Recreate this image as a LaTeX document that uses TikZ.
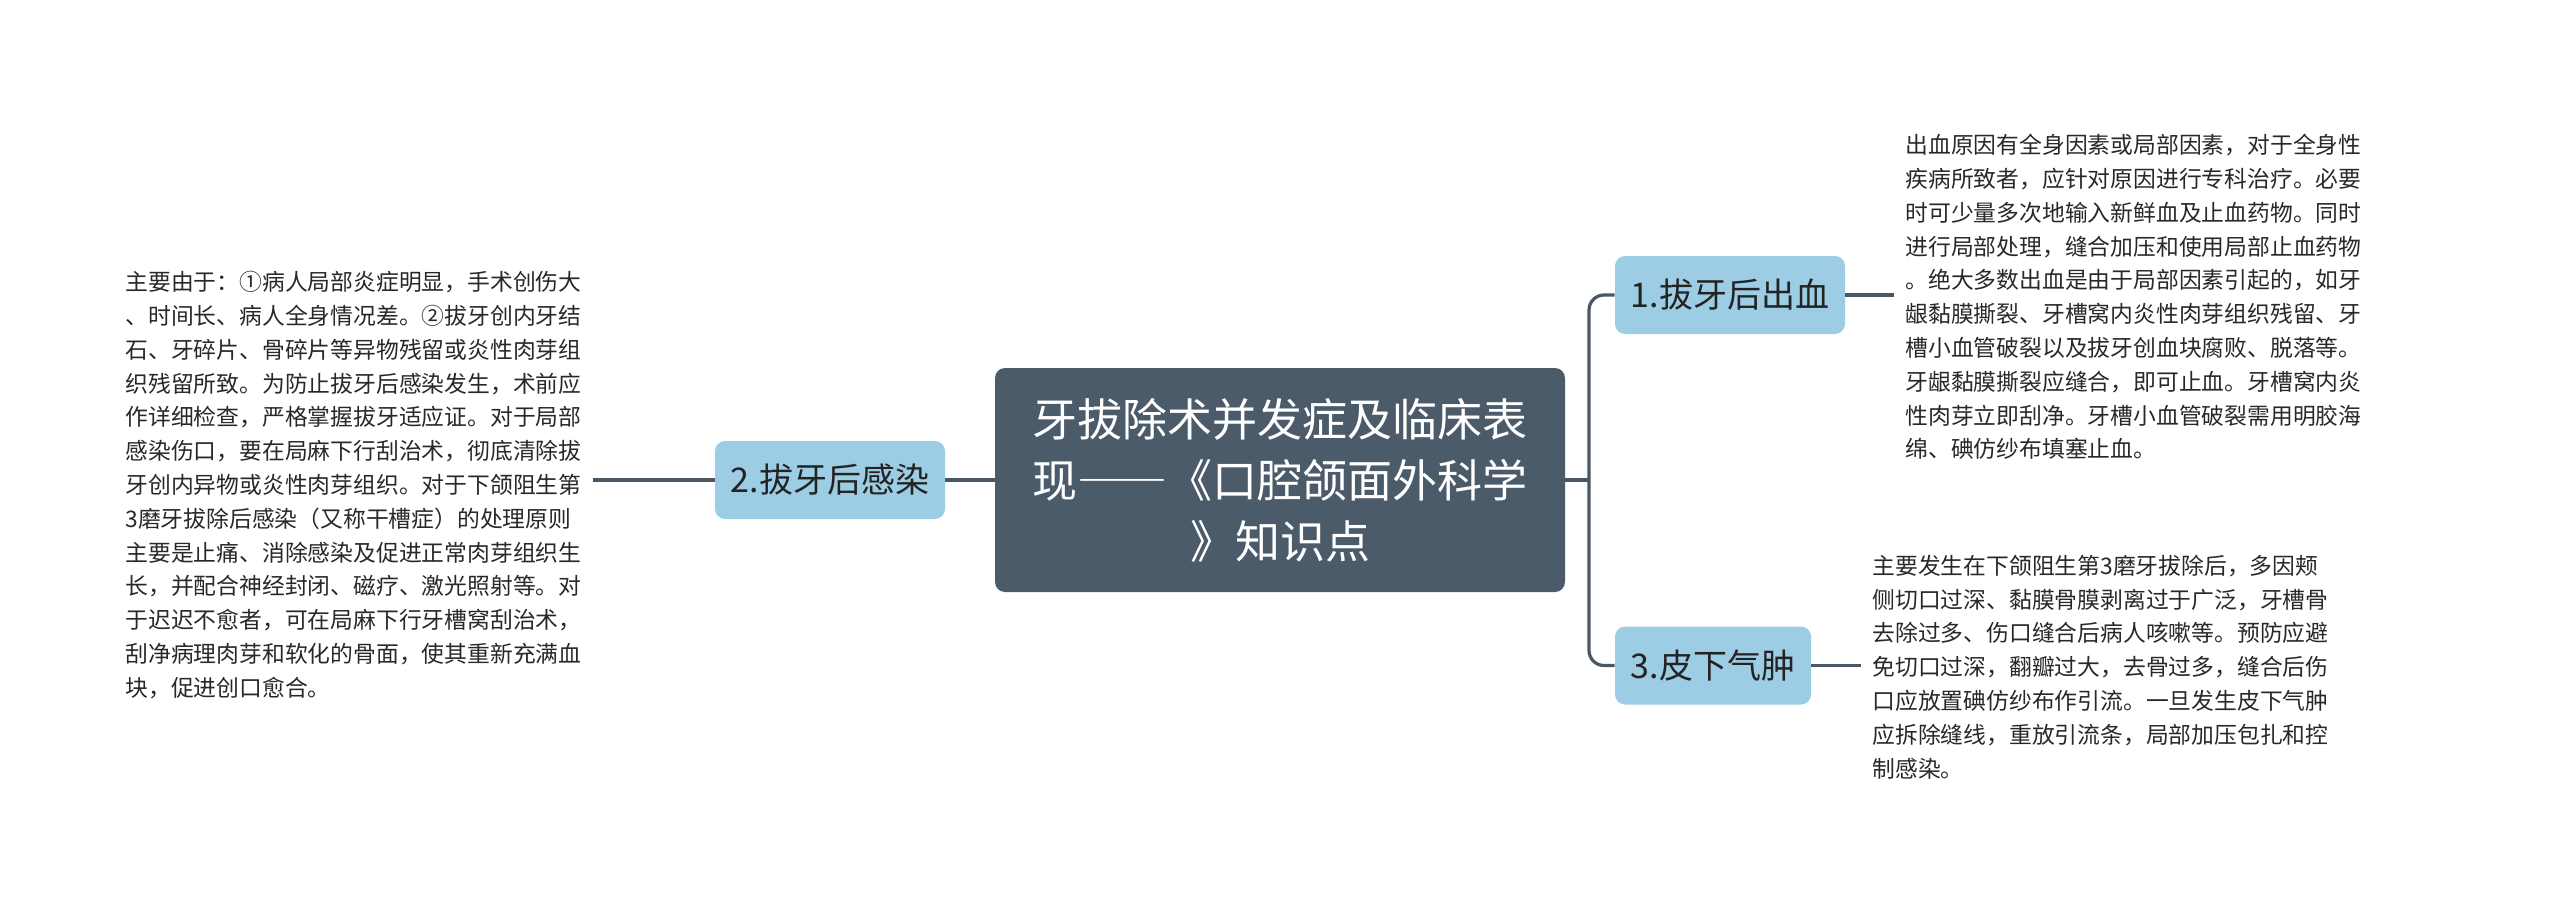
\documentclass[tikz,border=0pt]{standalone}
\usepackage{fontspec}
\setmainfont{Noto Sans CJK SC}
\newfontfamily\centerfont[CharacterWidth=Full]{Noto Sans CJK SC}
\definecolor{centerfill}{RGB}{76,91,106}
\definecolor{branchfill}{RGB}{156,205,228}
\definecolor{linecol}{RGB}{74,88,102}
\definecolor{leaftext}{RGB}{40,40,40}
\definecolor{branchtext}{RGB}{35,35,35}
\tikzset{
  centerbox/.style={fill=centerfill, rounded corners=5pt, text=white,
    font=\centerfont\fontsize{22.5pt}{30.5pt}\selectfont, align=center,
    minimum width=285pt, minimum height=112pt, inner sep=0pt},
  branchbox/.style={fill=branchfill, rounded corners=5pt, text=branchtext,
    font=\fontsize{17pt}{20pt}\selectfont, minimum height=39pt, inner sep=0pt},
  leaftxt/.style={align=left, text=leaftext,
    font=\fontsize{11.4pt}{16.9pt}\selectfont, inner sep=5.5pt, anchor=west},
  conn/.style={draw=linecol, line width=1.6pt},
}
\begin{document}
\begin{tikzpicture}[x=0.5pt,y=-0.5pt]
\useasboundingbox (0,0) rectangle (2560,910);
\node[centerbox] (center) at (1280,480) {牙拔除术并发症及临床表\\现——《口腔颌面外科学\\》知识点};
\node[branchbox, minimum width=115pt] (b2) at (830,480) {2.拔牙后感染};
\node[branchbox, minimum width=115pt] (b1) at (1730,295) {1.拔牙后出血};
\node[branchbox, minimum width=98pt] (b3) at (1713,665.5) {3.皮下气肿};
\node[leaftxt] (l2) at (114,485) {主要由于：①病人局部炎症明显，手术创伤大\\、时间长、病人全身情况差。②拔牙创内牙结\\石、牙碎片、骨碎片等异物残留或炎性肉芽组\\织残留所致。为防止拔牙后感染发生，术前应\\作详细检查，严格掌握拔牙适应证。对于局部\\感染伤口，要在局麻下行刮治术，彻底清除拔\\牙创内异物或炎性肉芽组织。对于下颌阻生第\\3磨牙拔除后感染（又称干槽症）的处理原则\\主要是止痛、消除感染及促进正常肉芽组织生\\长，并配合神经封闭、磁疗、激光照射等。对\\于迟迟不愈者，可在局麻下行牙槽窝刮治术，\\刮净病理肉芽和软化的骨面，使其重新充满血\\块，促进创口愈合。};
\node[leaftxt] (l1) at (1894,297) {出血原因有全身因素或局部因素，对于全身性\\疾病所致者，应针对原因进行专科治疗。必要\\时可少量多次地输入新鲜血及止血药物。同时\\进行局部处理，缝合加压和使用局部止血药物\\。绝大多数出血是由于局部因素引起的，如牙\\龈黏膜撕裂、牙槽窝内炎性肉芽组织残留、牙\\槽小血管破裂以及拔牙创血块腐败、脱落等。\\牙龈黏膜撕裂应缝合，即可止血。牙槽窝内炎\\性肉芽立即刮净。牙槽小血管破裂需用明胶海\\绵、碘仿纱布填塞止血。};
\node[leaftxt] (l3) at (1861,667) {主要发生在下颌阻生第3磨牙拔除后，多因颊\\侧切口过深、黏膜骨膜剥离过于广泛，牙槽骨\\去除过多、伤口缝合后病人咳嗽等。预防应避\\免切口过深，翻瓣过大，去骨过多，缝合后伤\\口应放置碘仿纱布作引流。一旦发生皮下气肿\\应拆除缝线，重放引流条，局部加压包扎和控\\制感染。};
\coordinate (J) at (1589,480);
\draw[conn] (center.east) -- (J);
\draw[conn, rounded corners=7.5pt] (J) |- (b1.west);
\draw[conn, rounded corners=7.5pt] (J) |- (b3.west);
\draw[conn] (b2.east) -- (center.west);
\draw[conn] (b2.west) -- (l2.east |- b2.west);
\draw[conn] (b1.east) -- (l1.west |- b1.east);
\draw[conn] (b3.east) -- (l3.west |- b3.east);
\end{tikzpicture}
\end{document}
